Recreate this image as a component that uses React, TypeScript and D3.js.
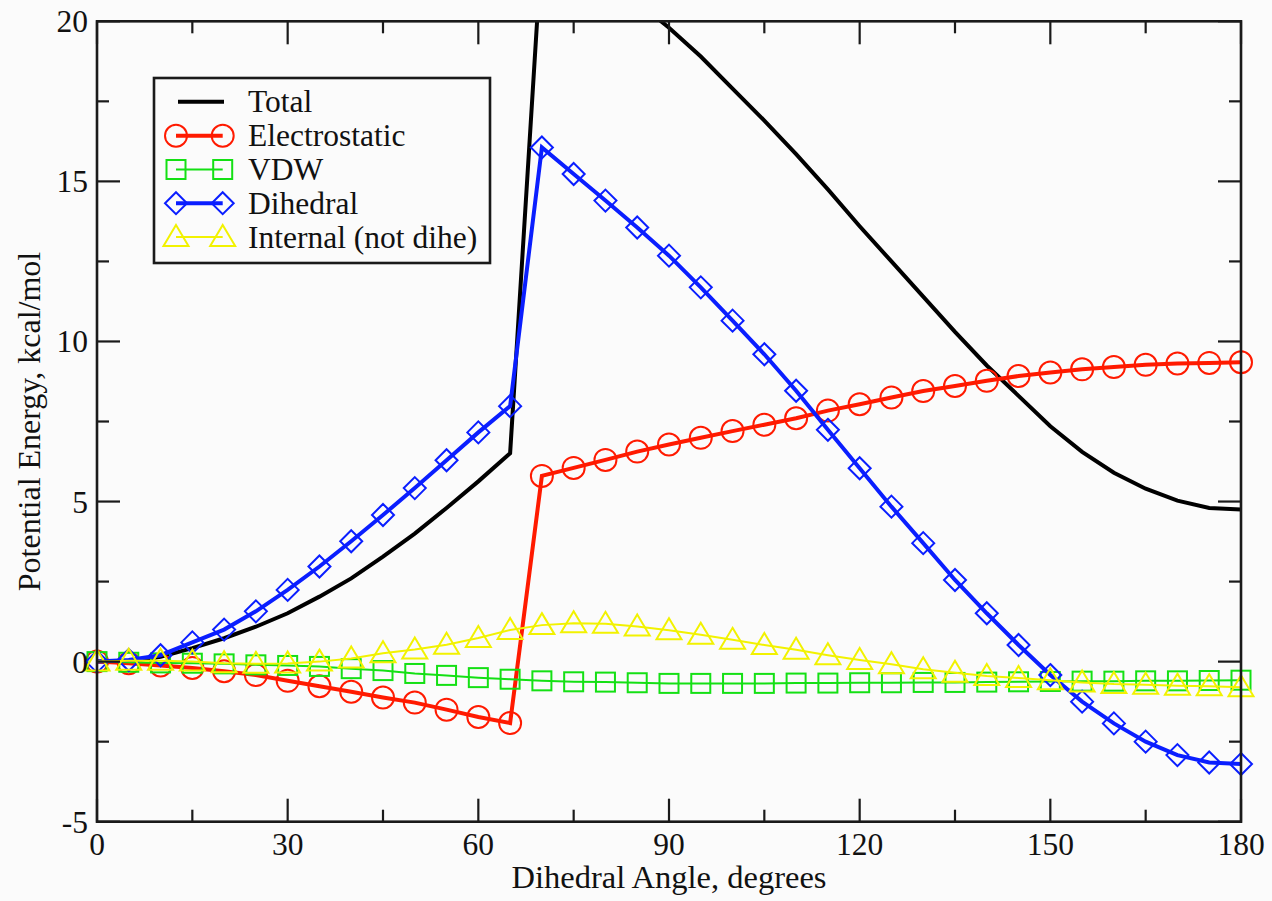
import React from "react";
import * as d3 from "d3";

// Relative potential energy components (kcal/mol) versus dihedral angle
const angles = [
  0, 5, 10, 15, 20, 25, 30, 35, 40, 45, 50, 55, 60, 65, 70, 75, 80, 85, 90,
  95, 100, 105, 110, 115, 120, 125, 130, 135, 140, 145, 150, 155, 160, 165,
  170, 175, 180,
];

const total = [
  0, 0.0, 0.15, 0.42, 0.73, 1.09, 1.51, 2.03, 2.6, 3.28, 4.0, 4.8, 5.63, 6.51,
  22.4, 21.9, 21.3, 20.6, 19.8, 18.9, 17.9, 16.9, 15.85, 14.75, 13.6, 12.5,
  11.4, 10.3, 9.25, 8.3, 7.35, 6.55, 5.9, 5.4, 5.03, 4.8, 4.75,
];

const electrostatic = [
  0, -0.05, -0.12, -0.2, -0.3, -0.42, -0.6, -0.77, -0.94, -1.12, -1.28, -1.5,
  -1.73, -1.92, 5.8, 6.05, 6.3, 6.56, 6.78, 6.99, 7.2, 7.4, 7.6, 7.84, 8.04,
  8.25, 8.45, 8.61, 8.77, 8.92, 9.03, 9.13, 9.2, 9.27, 9.31, 9.33, 9.35,
];

const vdw = [
  0, -0.02, -0.04, -0.05, -0.07, -0.1, -0.12, -0.15, -0.22, -0.28, -0.37,
  -0.43, -0.5, -0.55, -0.6, -0.63, -0.64, -0.66, -0.68, -0.68, -0.68, -0.68,
  -0.67, -0.67, -0.66, -0.66, -0.65, -0.65, -0.64, -0.63, -0.62, -0.61, -0.61,
  -0.6, -0.6, -0.59, -0.58,
];

const dihedral = [
  0, 0.05, 0.2, 0.6, 1.0, 1.57, 2.24, 2.97, 3.76, 4.58, 5.42, 6.29, 7.16, 7.98,
  16.06, 15.23, 14.4, 13.56, 12.68, 11.69, 10.65, 9.6, 8.46, 7.24, 6.04, 4.84,
  3.7, 2.55, 1.51, 0.52, -0.42, -1.25, -1.93, -2.5, -2.92, -3.15, -3.2,
];

const internal = [
  0, 0.03, 0.03, 0.0, -0.05, -0.07, -0.06, 0.0, 0.1, 0.26, 0.38, 0.53, 0.74,
  0.99, 1.14, 1.2, 1.18, 1.1, 0.98, 0.84, 0.68, 0.52, 0.37, 0.2, 0.05, -0.08,
  -0.24, -0.35, -0.45, -0.51, -0.58, -0.65, -0.7, -0.72, -0.75, -0.77, -0.8,
];

const xTicks = [0, 30, 60, 90, 120, 150, 180];
const xMinorTicks = [15, 45, 75, 105, 135, 165];
const yTicks = [-5, 0, 5, 10, 15, 20];
const yMinorTicks = [-2.5, 2.5, 7.5, 12.5, 17.5];

type Sym = "none" | "circle" | "square" | "diamond" | "triangle";

const seriesList: {
  name: string;
  values: number[];
  color: string;
  width: number;
  symbol: Sym;
}[] = [
  { name: "Total", values: total, color: "#000000", width: 4, symbol: "none" },
  { name: "Electrostatic", values: electrostatic, color: "#ff1a00", width: 4, symbol: "circle" },
  { name: "VDW", values: vdw, color: "#14e014", width: 2, symbol: "square" },
  { name: "Dihedral", values: dihedral, color: "#0a1eff", width: 4, symbol: "diamond" },
  { name: "Internal (not dihe)", values: internal, color: "#f2f200", width: 2, symbol: "triangle" },
];

const W = 1272;
const H = 901;
const PL = 97;
const PR = 1241;
const PT = 21.3;
const PB = 821.7;
const FONT = '"Liberation Serif", "Times New Roman", serif';
const textStyle = { fontFamily: FONT };

const x = d3.scaleLinear().domain([0, 180]).range([PL, PR]);
const y = d3.scaleLinear().domain([-5, 20]).range([PB, PT]);

function Marker({ kind, cx, cy, color }: { kind: Sym; cx: number; cy: number; color: string }) {
  const common = { fill: "none", stroke: color, strokeWidth: 2 };
  if (kind === "circle") return <circle cx={cx} cy={cy} r={11} {...common} />;
  if (kind === "square") return <rect x={cx - 9.5} y={cy - 9.5} width={19} height={19} {...common} />;
  if (kind === "diamond")
    return (
      <path
        d={`M${cx},${cy - 11}L${cx + 11},${cy}L${cx},${cy + 11}L${cx - 11},${cy}Z`}
        {...common}
      />
    );
  if (kind === "triangle")
    return (
      <path
        d={`M${cx},${cy - 12}L${cx + 12.5},${cy + 9}L${cx - 12.5},${cy + 9}Z`}
        {...common}
      />
    );
  return null;
}

export default function App() {
  const line = d3
    .line<number>()
    .x((_, i) => x(angles[i]))
    .y((v) => y(v));

  const legendX0 = 154;
  const legendY0 = 78;
  const legendRows = [101.7, 135.7, 169.5, 203.2, 237];

  return (
    <svg
      width={W}
      height={H}
      style={{ position: "absolute", left: 0, top: 0, background: "#fbfbfb" }}
    >
      <defs>
        <clipPath id="plot-clip">
          <rect x={PL} y={PT} width={PR - PL} height={PB - PT} />
        </clipPath>
      </defs>

      {/* series: line first, then its symbols */}
      {seriesList.map((s) => (
        <g key={s.name}>
          <path
            d={line(s.values) || ""}
            fill="none"
            stroke={s.color}
            strokeWidth={s.width}
            strokeLinejoin="miter"
            clipPath="url(#plot-clip)"
          />
          {s.symbol !== "none" &&
            s.values.map((v, i) => (
              <Marker key={i} kind={s.symbol} cx={x(angles[i])} cy={y(v)} color={s.color} />
            ))}
        </g>
      ))}

      {/* frame */}
      <rect x={PL} y={PT} width={PR - PL} height={PB - PT} fill="none" stroke="#1a1a1a" strokeWidth={2.6} />

      {/* x ticks, mirrored on top */}
      {xTicks.map((t) => (
        <g key={"xt" + t} stroke="#1a1a1a" strokeWidth={2.2}>
          <line x1={x(t)} x2={x(t)} y1={PB} y2={PB - 23} />
          <line x1={x(t)} x2={x(t)} y1={PT} y2={PT + 23} />
        </g>
      ))}
      {xMinorTicks.map((t) => (
        <g key={"xm" + t} stroke="#1a1a1a" strokeWidth={2.2}>
          <line x1={x(t)} x2={x(t)} y1={PB} y2={PB - 12} />
          <line x1={x(t)} x2={x(t)} y1={PT} y2={PT + 12} />
        </g>
      ))}
      {/* y ticks, mirrored on right */}
      {yTicks.map((t) => (
        <g key={"yt" + t} stroke="#1a1a1a" strokeWidth={2.2}>
          <line x1={PL} x2={PL + 23} y1={y(t)} y2={y(t)} />
          <line x1={PR} x2={PR - 23} y1={y(t)} y2={y(t)} />
        </g>
      ))}
      {yMinorTicks.map((t) => (
        <g key={"ym" + t} stroke="#1a1a1a" strokeWidth={2.2}>
          <line x1={PL} x2={PL + 12} y1={y(t)} y2={y(t)} />
          <line x1={PR} x2={PR - 12} y1={y(t)} y2={y(t)} />
        </g>
      ))}

      {/* tick labels */}
      {xTicks.map((t) => (
        <text key={"xl" + t} x={x(t)} y={855} textAnchor="middle" fontSize={31.5} fill="#111" style={textStyle}>
          {t}
        </text>
      ))}
      {yTicks.map((t) => (
        <text key={"yl" + t} x={88} y={y(t) + 11} textAnchor="end" fontSize={31.5} fill="#111" style={textStyle}>
          {t}
        </text>
      ))}

      {/* axis titles */}
      <text x={(PL + PR) / 2} y={888} textAnchor="middle" fontSize={32.5} fill="#111" style={textStyle}>
        Dihedral Angle, degrees
      </text>
      <text
        transform={`translate(40, ${(PT + PB) / 2}) rotate(-90)`}
        textAnchor="middle"
        fontSize={32}
        fill="#111"
        style={textStyle}
      >
        Potential Energy, kcal/mol
      </text>

      {/* legend */}
      <rect x={legendX0} y={legendY0} width={336} height={185} fill="#fbfbfb" stroke="#1a1a1a" strokeWidth={2.6} />
      {seriesList.map((s, i) => {
        const cy = legendRows[i];
        const xa = 176;
        const xb = 222.7;
        return (
          <g key={"lg" + s.name}>
            <line
              x1={s.symbol === "none" ? 178 : xa}
              x2={s.symbol === "none" ? 224 : xb}
              y1={cy}
              y2={cy}
              stroke={s.color}
              strokeWidth={s.width}
            />
            {s.symbol !== "none" && (
              <>
                <Marker kind={s.symbol} cx={xa} cy={cy} color={s.color} />
                <Marker kind={s.symbol} cx={xb} cy={cy} color={s.color} />
              </>
            )}
            <text x={248} y={cy + 10.5} fontSize={31.5} fill="#111" style={textStyle}>
              {s.name}
            </text>
          </g>
        );
      })}
    </svg>
  );
}
